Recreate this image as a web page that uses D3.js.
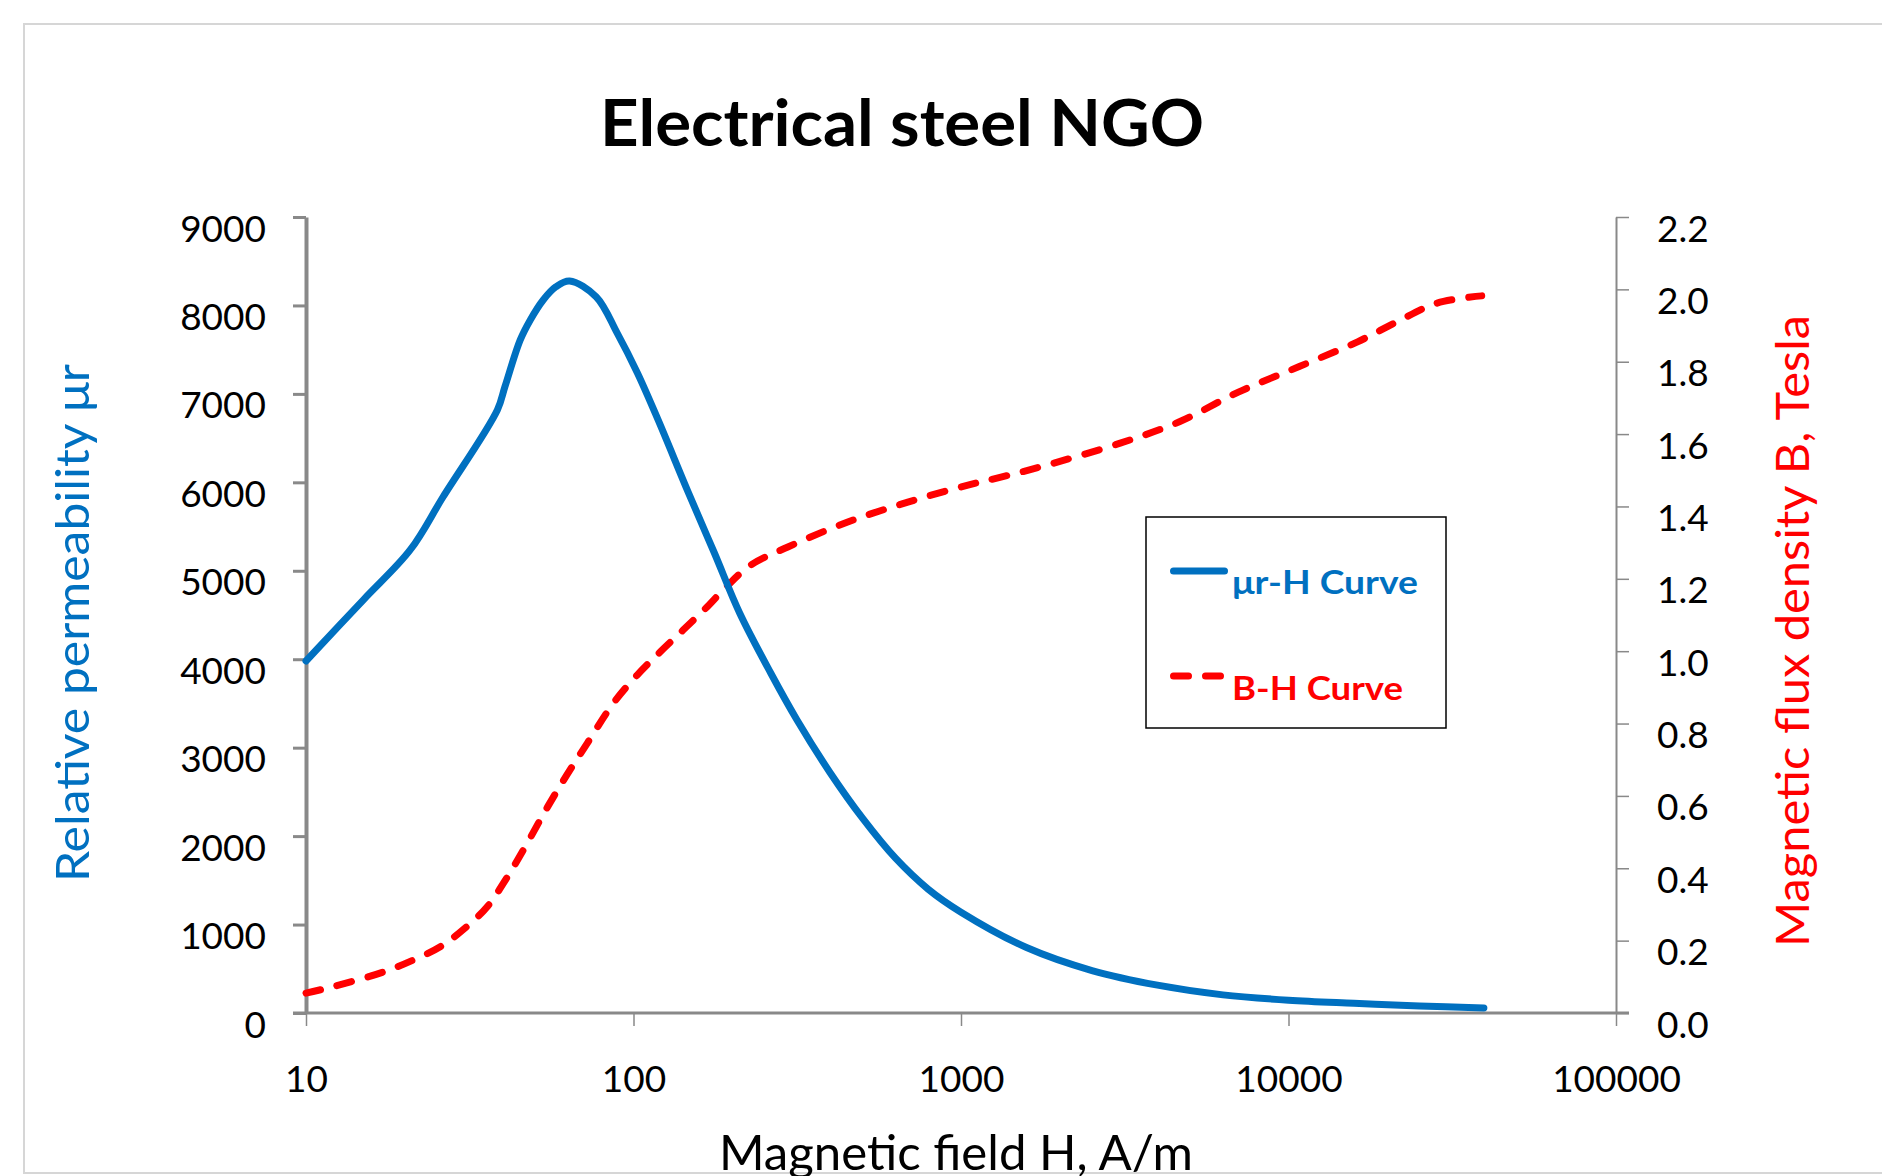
<!DOCTYPE html>
<html>
<head>
<meta charset="utf-8">
<script src="https://cdn.jsdelivr.net/npm/d3@7"></script>
<style>
  body { margin: 0; background: #fff; }
  svg { display: block; font-family: Lato, "Open Sans", sans-serif; }
</style>
</head>
<body>
<svg id="chart" width="1882" height="1176"></svg>
<script>
// values
const muH = [10, 15, 20.8, 26.2, 38.4, 40.5, 45.1, 48.4, 53, 58, 63.8, 77, 89.1, 102.8, 118.9, 147.2, 176.6, 210.9,
  262.4, 316, 398, 501, 631, 794, 1000, 1585, 2512, 3981, 6310, 10000, 15850, 25120, 39500];
const muR = [3980, 4675, 5235, 5834, 6818, 7082, 7610, 7836, 8062, 8212, 8277, 8096, 7689, 7236, 6705, 5880, 5201, 4523,
  3844, 3310, 2720, 2200, 1750, 1400, 1140, 740, 480, 315, 205, 145, 110, 79, 57];

const bH = [10, 12, 17.2, 21.2, 25.7, 30.9, 35.7, 41.2, 47.4, 54.6, 62.8, 72.3, 86.9, 102.6, 121, 142, 168, 192, 228, 296,
  451, 688, 1050, 1324, 1758, 3063, 4643, 7030, 10740, 16250, 21400, 28400, 38900];
const bT = [0.055, 0.072, 0.113, 0.146, 0.183, 0.238, 0.293, 0.376, 0.47, 0.569, 0.66, 0.746, 0.857, 0.934, 0.999, 1.059, 1.123, 1.178, 1.238, 1.288,
  1.357, 1.412, 1.459, 1.481, 1.51, 1.575, 1.634, 1.716, 1.786, 1.855, 1.91, 1.962, 1.982];

const xTicks = [10, 100, 1000, 10000, 100000];
const leftTicks = [0, 1000, 2000, 3000, 4000, 5000, 6000, 7000, 8000, 9000];
const rightTicks = [0, 0.2, 0.4, 0.6, 0.8, 1.0, 1.2, 1.4, 1.6, 1.8, 2.0, 2.2];

const blue = "#0070C0", red = "#FF0000", axisGray = "#898989";

const svg = d3.select("#chart");

let x = d3.scaleLog().domain([10, 100000]).range([306, 1616]);
let yL = d3.scaleLinear().domain([0, 9000]).range([1013, 217]);
let yR = d3.scaleLinear().domain([0, 2.2]).range([1013, 217]);

// outer chart frame
svg.append("rect")
  .attr("x", 24).attr("y", 24)
  .attr("width", 1900).attr("height", 1149)
  .attr("fill", "none").attr("stroke", "#d6d6d6").attr("stroke-width", 2);

// title
svg.append("text")
  .attr("x", 902).attr("y", 146)
  .attr("text-anchor", "middle")
  .attr("font-size", 65).attr("font-weight", 700)
  .attr("textLength", 604).attr("lengthAdjust", "spacingAndGlyphs")
  .text("Electrical steel NGO");

// axes
let gLeft = svg.append("g")
  .attr("transform", `translate(${x.range()[0]},0)`)
  .call(d3.axisLeft(yL).tickValues(leftTicks).tickSize(13).tickSizeOuter(0).tickPadding(27).tickFormat(d3.format("d")));
gLeft.select(".domain").attr("stroke", axisGray).attr("stroke-width", 4);
gLeft.selectAll(".tick line").attr("stroke", axisGray).attr("stroke-width", 3);

let gRight = svg.append("g")
  .attr("transform", `translate(${x.range()[1]},0)`)
  .call(d3.axisRight(yR).tickValues(rightTicks).tickSize(13).tickSizeOuter(0).tickPadding(28).tickFormat(d3.format(".1f")));
gRight.select(".domain").attr("stroke", axisGray).attr("stroke-width", 2);
gRight.selectAll(".tick line").attr("stroke", axisGray).attr("stroke-width", 1.5);

let gBottom = svg.append("g")
  .attr("transform", `translate(0,${yL.range()[0]})`)
  .call(d3.axisBottom(x).tickValues(xTicks).tickSize(13).tickSizeOuter(0).tickFormat(d3.format("d")));
gBottom.select(".domain").remove();
gBottom.selectAll(".tick line").attr("stroke", axisGray).attr("stroke-width", 1.5);
gBottom.append("line")
  .attr("x1", x.range()[0] - 13).attr("x2", x.range()[1] + 13)
  .attr("stroke", axisGray).attr("stroke-width", 3);

[gLeft, gRight, gBottom].forEach(g => {
  g.attr("font-family", null).attr("font-size", null);
  g.selectAll(".tick text")
    .attr("fill", "#000")
    .attr("font-size", 37);
});
gLeft.selectAll(".tick text").attr("dy", null).attr("y", 24);
gRight.selectAll(".tick text").attr("dy", null).attr("y", 24);
gBottom.selectAll(".tick text").attr("dy", null).attr("y", 79);

// axis titles
svg.append("text")
  .attr("transform", "translate(89,623) rotate(-90)")
  .attr("text-anchor", "middle")
  .attr("font-size", 47).attr("fill", blue)
  .attr("textLength", 518).attr("lengthAdjust", "spacingAndGlyphs")
  .text("Relative permeability μr");

svg.append("text")
  .attr("transform", "translate(1809,631) rotate(-90)")
  .attr("text-anchor", "middle")
  .attr("font-size", 47).attr("fill", red)
  .attr("textLength", 632).attr("lengthAdjust", "spacingAndGlyphs")
  .text("Magnetic flux density B, Tesla");

// the reference crops this title's descenders at the frame edge
svg.append("text")
  .attr("x", 956).attr("y", 1170)
  .attr("text-anchor", "middle")
  .attr("font-size", 48).attr("fill", "#000")
  .attr("textLength", 474).attr("lengthAdjust", "spacingAndGlyphs")
  .text("Magnetic field H, A/m");

// curves
let muData = muH.map((h, i) => ({ h: h, v: muR[i] }));
let bData = bH.map((h, i) => ({ h: h, v: bT[i] }));

let muLine = d3.line().x(d => x(d.h)).y(d => yL(d.v)).curve(d3.curveCatmullRom.alpha(0.5));
let bLine = d3.line().x(d => x(d.h)).y(d => yR(d.v)).curve(d3.curveCatmullRom.alpha(0.5));

svg.append("path")
  .attr("d", bLine(bData))
  .attr("fill", "none")
  .attr("stroke", red)
  .attr("stroke-width", 7)
  .attr("stroke-linecap", "round")
  .attr("stroke-dasharray", "15,17");

svg.append("path")
  .attr("d", muLine(muData))
  .attr("fill", "none")
  .attr("stroke", blue)
  .attr("stroke-width", 7)
  .attr("stroke-linecap", "round")
  .attr("stroke-linejoin", "round");

// legend
let legend = svg.append("g").attr("transform", "translate(1146,517)");
legend.append("rect")
  .attr("width", 300).attr("height", 211)
  .attr("fill", "#fff").attr("stroke", "#000").attr("stroke-width", 1.5);

let legendItems = [
  { label: "μr-H Curve", color: blue, dash: null, ly: 54, ty: 77, tl: 186 },
  { label: "B-H Curve", color: red, dash: "15,17", ly: 159, ty: 183, tl: 171 }
];
let lineGenerator = d3.line();
legendItems.forEach(it => {
  legend.append("path")
    .attr("d", lineGenerator([[27.5, it.ly], [it.dash ? 75 : 78.5, it.ly]]))
    .attr("stroke", it.color)
    .attr("stroke-width", 7)
    .attr("stroke-linecap", "round")
    .attr("stroke-dasharray", it.dash);
  legend.append("text")
    .attr("x", 86).attr("y", it.ty)
    .attr("font-size", 32).attr("font-weight", 700)
    .attr("fill", it.color)
    .attr("textLength", it.tl).attr("lengthAdjust", "spacingAndGlyphs")
    .text(it.label);
});
</script>
</body>
</html>
